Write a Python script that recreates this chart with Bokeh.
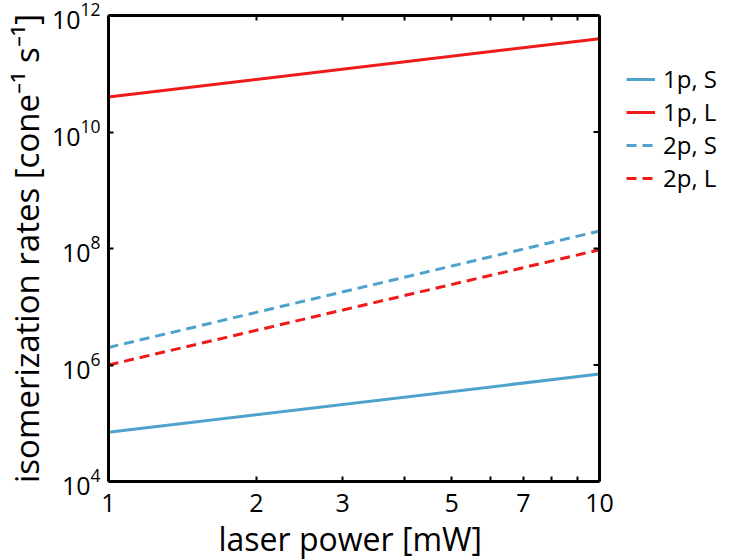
import numpy as np
from bokeh.plotting import figure
from bokeh.models import (LogAxis, FixedTicker, Legend, LegendItem, BoxAnnotation,
                          CustomJSTickFormatter, Range1d, LogTickFormatter, Title)
from bokeh.embed import file_html
from bokeh.resources import INLINE

# ---- data ----
laser_power = [1, 10]                 # mW
rate_1p_S = [7.0e4, 7.0e5]
rate_1p_L = [4.0e10, 4.0e11]
rate_2p_S = [2.0e6, 2.0e8]
rate_2p_L = [1.0e6, 9.5e7]

series_labels = ["1p, S", "1p, L", "2p, S", "2p, L"]
x_ticks = [1, 2, 3, 5, 7, 10]
x_minor = [4, 6, 8, 9]
y_ticks = [1e4, 1e6, 1e8, 1e10, 1e12]

BLUE = "#4fa2cb"
RED = "#f01a1a"
FONT = "Open Sans"

# the frame is widened to the right so the legend can live inside it;
# the axes box itself is drawn from x = 1..10
FRAME_W, BOX_W = 612, 491
x_end = x_ticks[-1] ** (FRAME_W / BOX_W)

p = figure(frame_width=FRAME_W, frame_height=466,
           min_border_left=102, min_border_top=15,
           min_border_right=0, min_border_bottom=62,
           x_axis_type="log", y_axis_type="log",
           x_range=Range1d(x_ticks[0], x_end), y_range=Range1d(y_ticks[0], y_ticks[-1]),
           output_backend="svg", toolbar_location=None)

p.grid.visible = False
p.outline_line_color = None

r1 = p.line(laser_power, rate_1p_S, line_color=BLUE, line_width=3)
r2 = p.line(laser_power, rate_1p_L, line_color=RED, line_width=3)
r3 = p.line(laser_power, rate_2p_S, line_color=BLUE, line_width=3, line_dash="10 6")
r4 = p.line(laser_power, rate_2p_L, line_color=RED, line_width=3, line_dash="10 6")

# right edge of the axes box
p.add_layout(BoxAnnotation(left=x_ticks[0], right=x_ticks[-1],
                           bottom=y_ticks[0], top=y_ticks[-1],
                           fill_alpha=0, line_color="black", line_width=3,
                           line_alpha=1.0))

# inward ticks on the right edge of the box
p.ray(x=[x_ticks[-1]] * len(y_ticks[1:-1]), y=y_ticks[1:-1], length=6,
      length_units="screen", angle=np.pi, line_color="black", line_width=2)


def style_axis(ax, ticker, bounds="auto"):
    ax.ticker = ticker
    ax.bounds = bounds
    ax.axis_line_color = "black"
    ax.axis_line_width = 3
    ax.major_tick_in = 5
    ax.major_tick_out = 0
    ax.minor_tick_in = 5
    ax.minor_tick_out = 0
    ax.major_tick_line_width = 2
    ax.minor_tick_line_width = 2
    ax.major_tick_line_color = "black"
    ax.minor_tick_line_color = "black"
    ax.major_label_text_font = FONT
    ax.major_label_text_font_size = "25px"
    ax.major_label_text_color = "black"
    ax.axis_label_text_font = FONT
    ax.axis_label_text_font_size = "33px"
    ax.axis_label_text_font_style = "normal"
    ax.axis_label_text_color = "black"


xa = p.xaxis[0]
style_axis(xa, FixedTicker(ticks=x_ticks, minor_ticks=x_minor),
           bounds=(x_ticks[0], x_ticks[-1]))
xa.formatter = CustomJSTickFormatter(code="return tick.toFixed(0);")
xa.major_label_standoff = 12

ya = p.yaxis[0]
style_axis(ya, FixedTicker(ticks=y_ticks, minor_ticks=[]))
ya.minor_tick_in = 0
ya.formatter = LogTickFormatter()
ya.axis_label = "isomerization rates [cone\u207b\u00b9 s\u207b\u00b9]"
ya.major_label_standoff = 8
ya.axis_label_standoff = 0

top = LogAxis()
style_axis(top, FixedTicker(ticks=x_ticks, minor_ticks=x_minor),
           bounds=(x_ticks[0], x_ticks[-1]))
top.formatter = CustomJSTickFormatter(code="return '';")
top.major_label_text_font_size = "0px"
top.major_label_standoff = 0
p.add_layout(top, "above")

# x-axis label, centred under the axes box (not under the widened frame)
xlabel = Title(text="laser power [mW]", align="left", offset=110, standoff=0,
               text_font=FONT, text_font_size="32px", text_font_style="normal",
               text_color="black")
p.add_layout(xlabel, "below")

legend = Legend(items=[LegendItem(label=series_labels[0], renderers=[r1]),
                       LegendItem(label=series_labels[1], renderers=[r2]),
                       LegendItem(label=series_labels[2], renderers=[r3]),
                       LegendItem(label=series_labels[3], renderers=[r4])],
                location=(518, 287),
                border_line_color=None, background_fill_alpha=0,
                label_text_font=FONT, label_text_font_size="24px",
                label_text_color="black",
                glyph_width=29, glyph_height=32, label_height=32,
                label_standoff=8, spacing=0, padding=0, margin=0)
p.add_layout(legend, "center")

open("out.html", "w").write(file_html(p, INLINE))
